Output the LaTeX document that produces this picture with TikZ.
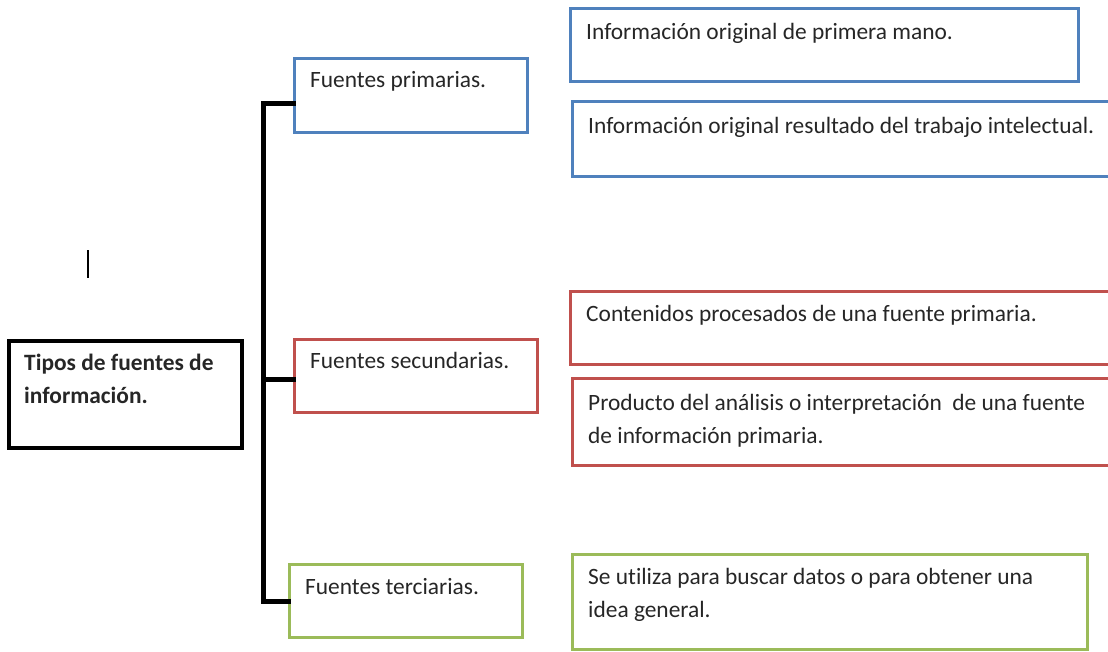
\documentclass[tikz,border=0pt]{standalone}
\usepackage{fontspec}
\setmainfont{Carlito}[Ligatures=NoCommon]
\usetikzlibrary{positioning}
\definecolor{azul}{HTML}{4F81BD}
\definecolor{rojo}{HTML}{C0504D}
\definecolor{verde}{HTML}{9BBB59}
\definecolor{tinta}{HTML}{262626}
\tikzset{
  caja/.style={draw=#1, line width=3pt, anchor=north west, inner sep=0pt},
  texto/.style={anchor=north west, inner sep=0pt, align=left, text=tinta,
    font=\fontsize{23.4}{33}\selectfont, execute at begin node={\rule{0pt}{22pt}}},
  llave/.style={line width=5pt, line cap=rect},
}
\begin{document}
\begin{tikzpicture}[x=1pt,y=-1pt]
\useasboundingbox (0,0) rectangle (1108,651);

% caja principal
\node[caja=black, line width=4pt, minimum width=233pt, minimum height=107pt] (tipos) at (7,339) {};
\node[texto, font=\fontsize{23.4}{33}\selectfont\bfseries, below right=15pt and 17pt of tipos.north west] (tipos-t) {Tipos de fuentes de\\información.};

% cursor
\draw[line width=1.5pt] (88,250) -- (88,278);

% tipos de fuentes
\foreach \nombre/\col/\x/\y/\w/\h/\dy/\txt in {
  prim/azul/293/57/233/74/8/{Fuentes primarias.},
  sec/rojo/293/338/243/73/8/{Fuentes secundarias.},
  terc/verde/288/563/233/73/9/{Fuentes terciarias.}} {
  \node[caja=\col, minimum width=\w pt, minimum height=\h pt] (\nombre) at (\x,\y) {};
  \node[texto, below right=\dy pt and 17pt of \nombre.north west] (\nombre-t) {\txt};
}

% llave
\coordinate (eje) at (263,0);
\draw[llave] ([yshift=-8pt]prim.west) -- ([yshift=-8pt]prim.west -| eje) -- (terc.west -| eje) -- (terc.west);
\draw[llave] ([yshift=-3.5pt]sec.west -| eje) -- ([yshift=-3.5pt]sec.west);

% descripciones
\foreach \nombre/\col/\x/\y/\w/\h/\dy/\txt in {
  p1/azul/569/7/508/73/10/{Información original de primera mano.},
  p2/azul/571/100/560/75/11/{Información original resultado del trabajo intelectual.},
  s1/rojo/569/290/560/73/9/{Contenidos procesados de una fuente primaria.},
  s2/rojo/571/377/560/87/17/{Producto del análisis o interpretación \ de una fuente\\de información primaria.},
  t1/verde/571/553/515/95/15/{Se utiliza para buscar datos o para obtener una\\idea general.}} {
  \node[caja=\col, minimum width=\w pt, minimum height=\h pt] (\nombre) at (\x,\y) {};
  \node[texto, below right=\dy pt and 17pt of \nombre.north west] (\nombre-t) {\txt};
}
\end{tikzpicture}
\end{document}
